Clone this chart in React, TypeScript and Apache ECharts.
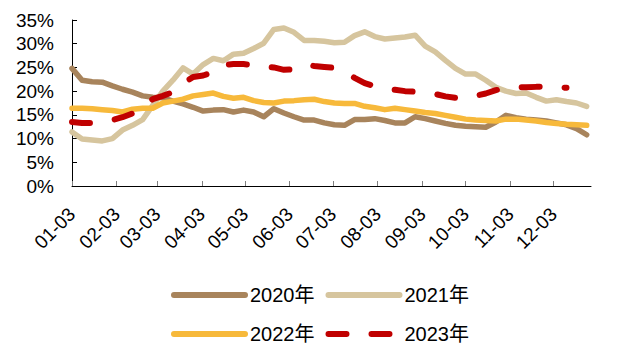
import { useEffect, useRef } from "react";
import * as echarts from "echarts";

// Weekly observation dates (MM-DD)
const weekDates = [
  "01-03", "01-10", "01-17", "01-24", "01-31",
  "02-07", "02-14", "02-21", "02-28",
  "03-07", "03-14", "03-21", "03-28",
  "04-04", "04-11", "04-18", "04-25",
  "05-02", "05-09", "05-16", "05-23", "05-30",
  "06-06", "06-13", "06-20", "06-27",
  "07-04", "07-11", "07-18", "07-25",
  "08-01", "08-08", "08-15", "08-22", "08-29",
  "09-05", "09-12", "09-19", "09-26",
  "10-03", "10-10", "10-17", "10-24", "10-31",
  "11-07", "11-14", "11-21", "11-28",
  "12-05", "12-12", "12-19", "12-26",
];

// Tick labels on the date axis
const monthTicks = [
  "01-03", "02-03", "03-03", "04-03", "05-03", "06-03",
  "07-03", "08-03", "09-03", "10-03", "11-03", "12-03",
];

const seriesNames = ["2020年", "2021年", "2022年", "2023年"];

// Values in %
const rate2020 = [
  24.8, 22.3, 22.0, 21.9, 21.1, 20.4, 19.8, 19.0, 18.7, 18.6,
  17.9, 17.3, 16.6, 15.8, 16.0, 16.1, 15.6, 16.0, 15.6, 14.6,
  16.3, 15.4, 14.6, 13.9, 13.9, 13.3, 12.9, 12.8, 14.0, 14.0,
  14.2, 13.8, 13.3, 13.3, 14.6, 14.2, 13.7, 13.2, 12.8, 12.6,
  12.5, 12.4, 13.5, 14.9, 14.4, 14.1, 13.9, 13.7, 13.3, 12.9,
  12.1, 10.8,
];
const rate2021 = [
  11.4, 9.9, 9.7, 9.5, 10.0, 11.8, 12.8, 14.0, 17.0, 20.0,
  22.3, 24.9, 23.6, 25.6, 26.9, 26.4, 27.8, 28.0, 29.0, 30.1,
  33.0, 33.3, 32.4, 30.7, 30.7, 30.5, 30.2, 30.3, 31.7, 32.5,
  31.5, 31.0, 31.2, 31.4, 31.8, 29.5, 28.3, 26.5, 24.8, 23.6,
  23.6, 22.3, 20.8, 20.0, 19.5, 19.6, 18.7, 17.9, 18.2, 17.8,
  17.5, 16.8,
];
const rate2022 = [
  16.4, 16.4, 16.3, 16.1, 15.9, 15.6, 16.2, 16.4, 16.4, 17.5,
  17.9, 18.3, 19.0, 19.3, 19.6, 18.9, 18.5, 18.7, 18.0, 17.6,
  17.5, 17.9, 18.0, 18.2, 18.3, 17.8, 17.5, 17.4, 17.4, 16.8,
  16.5, 16.1, 16.4, 16.1, 15.8, 15.5, 15.3, 14.9, 14.5, 14.1,
  13.9, 13.8, 13.7, 14.1, 14.1, 13.9, 13.7, 13.4, 13.2, 13.0,
  12.9, 12.8,
];
const rate2023 = [
  13.5, 13.3, 13.3, 13.5, 13.9, 14.5, 15.3, 16.8, 18.3, 19.0,
  19.8, 21.6, 23.0, 23.3, 24.0, 25.5, 25.7, 25.7, 25.5, 25.2,
  25.0, 24.5, 24.6, 25.6, 25.3, 25.1, 24.9, 24.0, 22.8, 21.7,
  21.0, 20.5, 20.3, 20.0, 19.9, 19.7, 19.4, 18.9, 18.6, 18.5,
  19.0, 19.5, 20.2, 20.7, 20.8, 20.8, 20.9, 20.9, 20.9, 20.7,
];

const seriesColors = ["#A8845C", "#D6C59E", "#F7B93B", "#C00000"];

const MONTH_DAYS = [31, 28, 31, 30, 31, 30, 31, 31, 30, 31, 30, 31];

// Days elapsed since Jan 3 for an "MM-DD" string
function dayOffset(md: string): number {
  const [m, d] = md.split("-").map(Number);
  let n = d;
  for (let i = 0; i < m - 1; i++) n += MONTH_DAYS[i];
  return n - 3;
}

const FONT = "'Liberation Sans', Arial, 'Noto Sans CJK SC', sans-serif";

export default function App() {
  const ref = useRef<HTMLDivElement>(null);

  useEffect(() => {
    if (!ref.current) return;
    const chart = echarts.init(ref.current, undefined, { renderer: "svg" });

    const tickValues = monthTicks.map(dayOffset);
    const tickLabel: Record<number, string> = {};
    monthTicks.forEach((t) => (tickLabel[dayOffset(t)] = t));

    const toPoints = (vals: number[]) =>
      vals.map((v, i) => [dayOffset(weekDates[i]), v]);

    const allValues = [rate2020, rate2021, rate2022, rate2023];

    const series = allValues.map((vals, k) => ({
      name: seriesNames[k],
      type: "line",
      data: toPoints(vals),
      symbol: "none",
      showSymbol: false,
      color: seriesColors[k],
      lineStyle: {
        color: seriesColors[k],
        width: k === 3 ? 6 : 5.5,
        type: k === 3 ? [18, 25] : "solid",
        cap: "round",
        join: "round",
      },
      z: 2 + k,
    }));

    const legendBase = {
      left: 171,
      padding: 0,
      itemWidth: 71,
      itemHeight: 14,
      itemGap: 11,
      textStyle: { fontSize: 20, color: "#000", fontFamily: FONT },
      lineStyle: { width: 6 },
      itemStyle: { opacity: 0 },
      selectedMode: false,
    };

    chart.setOption({
      animation: false,
      textStyle: { fontFamily: FONT },
      grid: { left: 72, right: 44, top: 20, bottom: 174 },
      legend: [
        { ...legendBase, top: 285, data: [seriesNames[0], seriesNames[1]] },
        { ...legendBase, top: 324, data: [seriesNames[2], seriesNames[3]] },
      ],
      xAxis: {
        type: "value",
        min: 0,
        max: 360,
        splitLine: { show: false },
        axisLine: { show: true, lineStyle: { color: "#000", width: 1 } },
        axisTick: {
          show: true,
          inside: true,
          length: 5,
          customValues: tickValues,
          lineStyle: { color: "#7f7f7f" },
        },
        axisLabel: {
          customValues: tickValues,
          formatter: (v: number) => tickLabel[v] ?? "",
          rotate: 45,
          fontSize: 19,
          color: "#000",
          margin: 25,
          fontFamily: FONT,
        },
      },
      yAxis: {
        type: "value",
        min: 0,
        max: 35,
        interval: 5,
        splitLine: { show: false },
        axisLine: { show: true, lineStyle: { color: "#000", width: 1 } },
        axisTick: { show: true, inside: true, length: 5, lineStyle: { color: "#000" } },
        axisLabel: {
          formatter: "{value}%",
          fontSize: 19,
          color: "#000",
          margin: 18,
          fontFamily: FONT,
        },
      },
      series,
    });

    return () => chart.dispose();
  }, []);

  return (
    <div
      ref={ref}
      style={{ position: "fixed", left: 0, top: 0, width: 635, height: 360, background: "#fff" }}
    />
  );
}
